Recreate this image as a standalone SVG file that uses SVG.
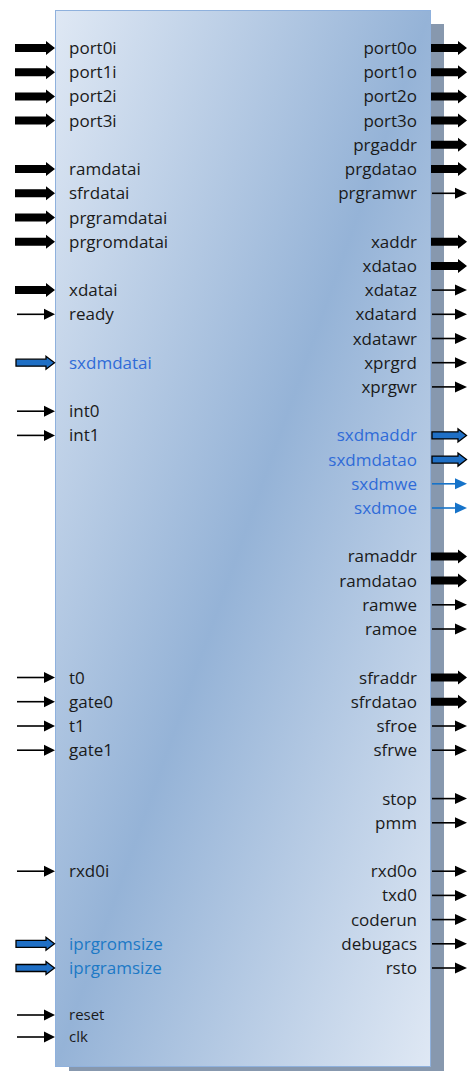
<svg xmlns="http://www.w3.org/2000/svg" xmlns:xlink="http://www.w3.org/1999/xlink" width="468" height="1071" viewBox="0 0 468 1071">
<style>
.l{font-family:"Open Sans","Liberation Sans",sans-serif;font-size:17px;fill:#1a1a1a}
.r{font-family:"Open Sans","Liberation Sans",sans-serif;font-size:17px;fill:#1a1a1a;text-anchor:end}
.s{font-size:15px}
.b1{fill:#2f6bd8}
.b2{fill:#1c79c6}
.thin{stroke:#000;stroke-width:1.6;fill:none}
.thinb{stroke:#1673c9;stroke-width:1.6;fill:none}
</style>
<defs>
<linearGradient id="g" x1="0" y1="0" x2="1" y2="1">
<stop offset="0" stop-color="#dfe8f4"/>
<stop offset="0.5" stop-color="#95b3d7"/>
<stop offset="1" stop-color="#dfe8f4"/>
</linearGradient>
<path id="LT" d="M15,-4H46V-7L55,0L46,7V4H15Z" fill="#000"/>
<path id="LB" d="M16,-3.5H46V-6.5L54.5,0L46,6.5V3.5H16Z" fill="#1f6fc5" stroke="#000" stroke-width="1.3"/>
<g id="LN"><line x1="17" y1="0" x2="46" y2="0" class="thin"/><path d="M44,-5.5L55,0L44,5.5Z" fill="#000"/></g>
<path id="RT" d="M431,-4H458V-7L467,0L458,7V4H431Z" fill="#000"/>
<path id="RB" d="M432,-3.5H458V-6.5L466.5,0L458,6.5V3.5H432Z" fill="#1f6fc5" stroke="#000" stroke-width="1.3"/>
<g id="RN"><line x1="432" y1="0" x2="457" y2="0" class="thin"/><path d="M455,-5.5L467,0L455,5.5Z" fill="#000"/></g>
<g id="RNB"><line x1="432" y1="0" x2="457" y2="0" class="thinb"/><path d="M455,-5.5L467,0L455,5.5Z" fill="#1673c9"/></g>
</defs>
<g id="block">
<rect x="69" y="24" width="375" height="1056" fill="#8798ae"/>
<rect x="55.5" y="10.5" width="375" height="1056" fill="url(#g)" stroke="#8fb1dd" stroke-width="1"/>
</g>
<g id="connectors">
<use xlink:href="#LT" y="48"/>
<use xlink:href="#LT" y="72.2"/>
<use xlink:href="#LT" y="96.4"/>
<use xlink:href="#LT" y="120.6"/>
<use xlink:href="#LT" y="169"/>
<use xlink:href="#LT" y="193.3"/>
<use xlink:href="#LT" y="217.5"/>
<use xlink:href="#LT" y="241.7"/>
<use xlink:href="#LT" y="290.1"/>
<use xlink:href="#LN" y="314.3"/>
<use xlink:href="#LB" y="362.7"/>
<use xlink:href="#LN" y="411.2"/>
<use xlink:href="#LN" y="435.4"/>
<use xlink:href="#LN" y="677.5"/>
<use xlink:href="#LN" y="701.7"/>
<use xlink:href="#LN" y="726"/>
<use xlink:href="#LN" y="750.2"/>
<use xlink:href="#LN" y="871.2"/>
<use xlink:href="#LB" y="943.8"/>
<use xlink:href="#LB" y="968"/>
<use xlink:href="#LN" y="1015"/>
<use xlink:href="#LN" y="1037"/>
<use xlink:href="#RT" y="48"/>
<use xlink:href="#RT" y="72.2"/>
<use xlink:href="#RT" y="96.4"/>
<use xlink:href="#RT" y="120.6"/>
<use xlink:href="#RT" y="144.8"/>
<use xlink:href="#RT" y="169"/>
<use xlink:href="#RN" y="193.3"/>
<use xlink:href="#RT" y="241.7"/>
<use xlink:href="#RT" y="265.9"/>
<use xlink:href="#RN" y="290.1"/>
<use xlink:href="#RN" y="314.3"/>
<use xlink:href="#RN" y="338.5"/>
<use xlink:href="#RN" y="362.7"/>
<use xlink:href="#RN" y="386.9"/>
<use xlink:href="#RB" y="435.4"/>
<use xlink:href="#RB" y="459.6"/>
<use xlink:href="#RNB" y="483.8"/>
<use xlink:href="#RNB" y="508"/>
<use xlink:href="#RT" y="556.4"/>
<use xlink:href="#RT" y="580.6"/>
<use xlink:href="#RN" y="604.8"/>
<use xlink:href="#RN" y="629"/>
<use xlink:href="#RT" y="677.5"/>
<use xlink:href="#RT" y="701.7"/>
<use xlink:href="#RN" y="726"/>
<use xlink:href="#RN" y="750.2"/>
<use xlink:href="#RN" y="798.6"/>
<use xlink:href="#RN" y="822.8"/>
<use xlink:href="#RN" y="871.2"/>
<use xlink:href="#RN" y="895.4"/>
<use xlink:href="#RN" y="919.6"/>
<use xlink:href="#RN" y="943.8"/>
<use xlink:href="#RN" y="968"/>
</g>
<g id="labels-in">
<text class="l" x="69" y="54">port0i</text>
<text class="l" x="69" y="78.2">port1i</text>
<text class="l" x="69" y="102.4">port2i</text>
<text class="l" x="69" y="126.6">port3i</text>
<text class="l" x="69" y="175">ramdatai</text>
<text class="l" x="69" y="199.3">sfrdatai</text>
<text class="l" x="69" y="223.5">prgramdatai</text>
<text class="l" x="69" y="247.7">prgromdatai</text>
<text class="l" x="69" y="296.1">xdatai</text>
<text class="l" x="69" y="320.3">ready</text>
<text class="l b1" x="69" y="368.7">sxdmdatai</text>
<text class="l" x="69" y="417.2">int0</text>
<text class="l" x="69" y="441.4">int1</text>
<text class="l" x="69" y="683.5">t0</text>
<text class="l" x="69" y="707.7">gate0</text>
<text class="l" x="69" y="732">t1</text>
<text class="l" x="69" y="756.2">gate1</text>
<text class="l" x="69" y="877.2">rxd0i</text>
<text class="l b2" x="69" y="949.8">iprgromsize</text>
<text class="l b2" x="69" y="974">iprgramsize</text>
<text class="l s" x="69" y="1020">reset</text>
<text class="l s" x="69" y="1042">clk</text>
</g>
<g id="labels-out">
<text class="r" x="417" y="54">port0o</text>
<text class="r" x="417" y="78.2">port1o</text>
<text class="r" x="417" y="102.4">port2o</text>
<text class="r" x="417" y="126.6">port3o</text>
<text class="r" x="417" y="150.8">prgaddr</text>
<text class="r" x="417" y="175">prgdatao</text>
<text class="r" x="417" y="199.3">prgramwr</text>
<text class="r" x="417" y="247.7">xaddr</text>
<text class="r" x="417" y="271.9">xdatao</text>
<text class="r" x="417" y="296.1">xdataz</text>
<text class="r" x="417" y="320.3">xdatard</text>
<text class="r" x="417" y="344.5">xdatawr</text>
<text class="r" x="417" y="368.7">xprgrd</text>
<text class="r" x="417" y="392.9">xprgwr</text>
<text class="r b1" x="417" y="441.4">sxdmaddr</text>
<text class="r b1" x="417" y="465.6">sxdmdatao</text>
<text class="r b1" x="417" y="489.8">sxdmwe</text>
<text class="r b1" x="417" y="514">sxdmoe</text>
<text class="r" x="417" y="562.4">ramaddr</text>
<text class="r" x="417" y="586.6">ramdatao</text>
<text class="r" x="417" y="610.8">ramwe</text>
<text class="r" x="417" y="635">ramoe</text>
<text class="r" x="417" y="683.5">sfraddr</text>
<text class="r" x="417" y="707.7">sfrdatao</text>
<text class="r" x="417" y="732">sfroe</text>
<text class="r" x="417" y="756.2">sfrwe</text>
<text class="r" x="417" y="804.6">stop</text>
<text class="r" x="417" y="828.8">pmm</text>
<text class="r" x="417" y="877.2">rxd0o</text>
<text class="r" x="417" y="901.4">txd0</text>
<text class="r" x="417" y="925.6">coderun</text>
<text class="r" x="417" y="949.8">debugacs</text>
<text class="r" x="417" y="974">rsto</text>
</g>
</svg>
